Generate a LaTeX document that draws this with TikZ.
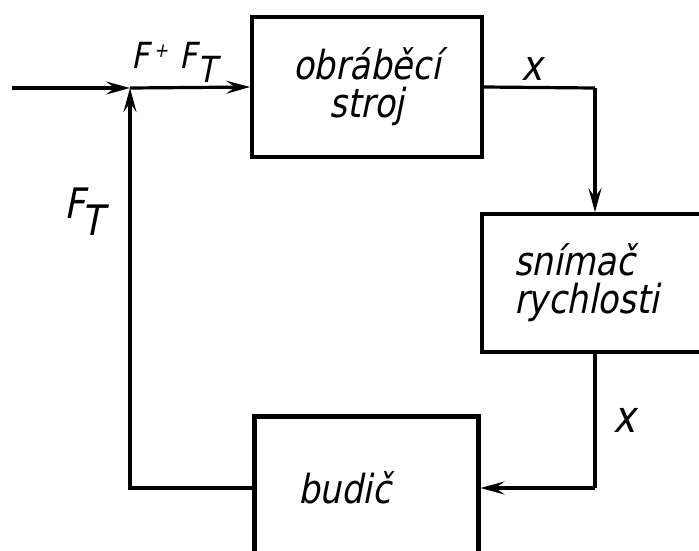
\documentclass[tikz,border=0pt]{standalone}
\usepackage{fontspec}
\newfontfamily\tech{DejaVu Sans}[FakeStretch=0.85,FakeSlant=0.2]
\usetikzlibrary{arrows.meta,calc}
\begin{document}
\begin{tikzpicture}[x=1pt,y=-1pt,
  blk/.style={draw, line width=3.6pt, rectangle, inner sep=0pt,
    font=\tech\fontsize{40}{38}\selectfont},
  conn/.style={line width=3.2pt},
  arr/.style={conn, -{Stealth[length=24pt,width=13pt,inset=9pt]}},
  lbl/.style={inner sep=0pt}]
\useasboundingbox (0,0) rectangle (699,550);
\clip (0,0) rectangle (699,550);
% blocks
\node[blk, minimum width=230pt, minimum height=140pt, align=center] (obr) at (367,87) {obráběcí\\stroj};
\node[blk, minimum width=240pt, minimum height=138pt, text width=176pt, inner xsep=31pt, align=left] (snim) at (602,283) {\raisebox{4pt}{snímač}\\\raisebox{4pt}{rychlosti}};
\node[blk, line width=5pt, minimum width=224pt, minimum height=144pt, text width=136pt, inner xsep=44pt, align=left] (bud) at (366,488) {budič};
% helper points
\coordinate (in) at (12,88);
\coordinate (sum) at (130,88);
\coordinate (c1) at (595,88);
\coordinate (c2) at (595,488);
% connectors
\draw[arr] (in) -- (sum);
\draw[arr] (sum) -- (obr.west);
\draw[conn] (obr.east) -- (c1);
\draw[arr] (c1) -- (c1 |- snim.north);
\draw[conn] (c1 |- snim.south) -- (c2);
\draw[arr] (c2) -- (bud.east);
\draw[arr] (bud.west) -| (sum);
% labels
\node[lbl, anchor=base west, font=\tech\fontsize{36}{36}\selectfont] (lf) at (131,68) {F\kern5pt\raisebox{11pt}{\fontsize{20}{20}\selectfont +}\kern11ptF\kern1pt\raisebox{-14pt}{T}};
\node[lbl, anchor=base west, font=\tech\fontsize{42}{42}\selectfont] (lft) at (64,218) {F\kern-3pt\raisebox{-17pt}{T}};
\node[lbl, anchor=base, font=\tech\fontsize{42}{42}\selectfont] (lx1) at (532,80) {x};
\node[lbl, anchor=base, font=\tech\fontsize{44}{44}\selectfont] (lx2) at (625,432) {x};
\end{tikzpicture}
\end{document}
